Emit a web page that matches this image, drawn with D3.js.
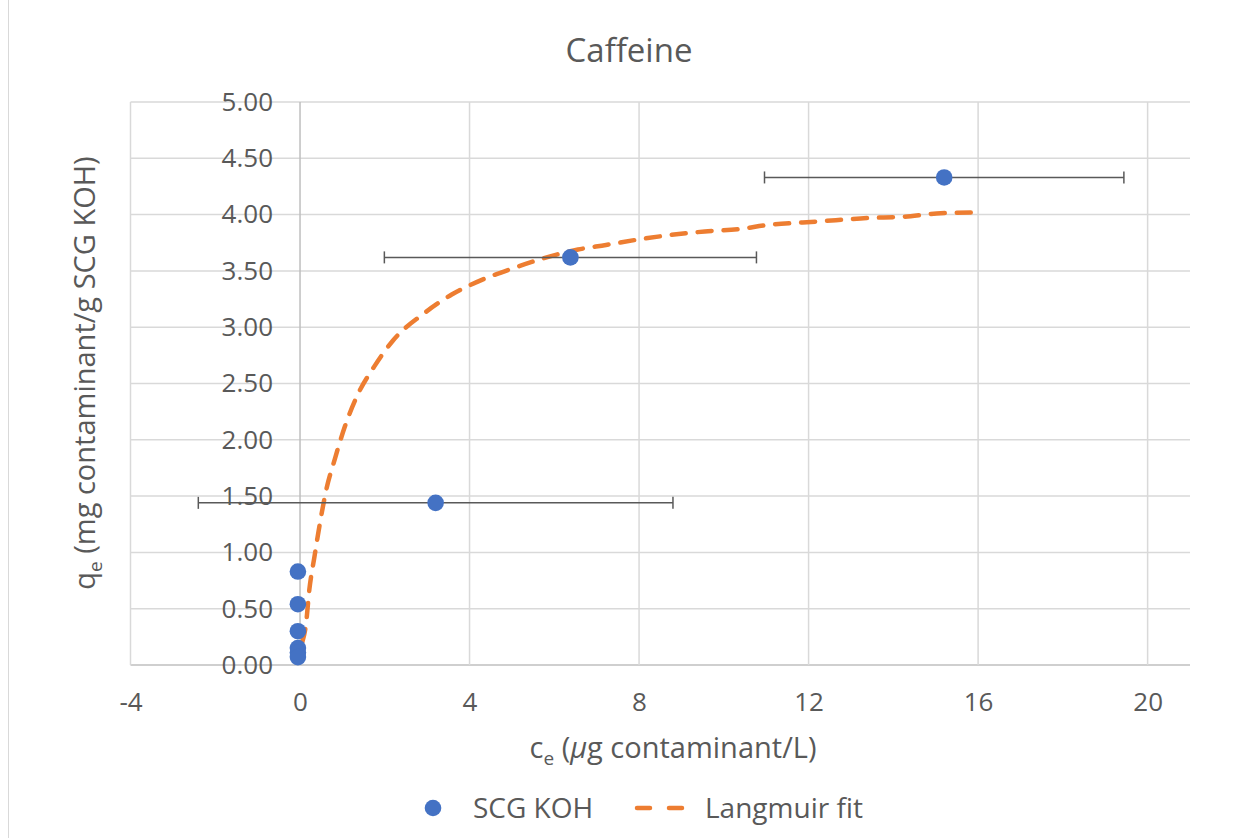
<!DOCTYPE html>
<html>
<head>
<meta charset="utf-8">
<script src="https://cdn.jsdelivr.net/npm/d3@7"></script>
<style>
  body { margin: 0; background: #fff; }
  text { font-family: "Open Sans", sans-serif; fill: #595959; }
</style>
</head>
<body>
<div class="caffeine_chart"></div>
<script>
// measured points (SCG KOH)
var ceVals = [15.2, 6.38, 3.2, -0.05, -0.05, -0.05, -0.05, -0.05, -0.05]
var qeVals = [4.33, 3.62, 1.44, 0.83, 0.54, 0.30, 0.15, 0.11, 0.07]
var ceErr = [4.24, 4.39, 5.6, 0, 0, 0, 0, 0, 0]

// Langmuir fit
var fitCe = [0.05, 0.14, 0.22, 0.34, 0.47, 0.61, 0.83, 1.06, 1.36, 1.75, 2.19, 2.95, 3.58,
  4.29, 5.00, 5.73, 6.56, 7.22, 8.00, 8.77, 9.55, 10.33, 11.08, 11.86, 12.64, 13.42, 14.22, 15.02, 16.0]
var fitQe = [0.20, 0.36, 0.67, 0.96, 1.26, 1.54, 1.84, 2.12, 2.40, 2.65, 2.88, 3.13, 3.29,
  3.42, 3.52, 3.61, 3.69, 3.73, 3.78, 3.82, 3.85, 3.87, 3.91, 3.93, 3.95, 3.97, 3.98, 4.01, 4.02]

var xTicks = [-4, 0, 4, 8, 12, 16, 20]
var yTicks = [0, 0.5, 1, 1.5, 2, 2.5, 3, 3.5, 4, 4.5, 5]

var W = 1244, H = 838
var plot = {left: 130.5, right: 1190, top: 102, bottom: 665}

var svg = d3.select(".caffeine_chart").append("svg")
  .attr("width", W)
  .attr("height", H)

// chart area border
svg.append("rect")
  .attr("x", 8.5).attr("y", -2)
  .attr("width", W).attr("height", H + 4)
  .attr("fill", "none")
  .attr("stroke", "#d9d9d9")

var x = d3.scaleLinear().domain([-4, 21]).range([plot.left, plot.right]),
  y = d3.scaleLinear().domain([0, 5]).range([plot.bottom, plot.top]);

// grid
svg.append("g").selectAll("line")
  .data(yTicks)
  .enter().append("line")
    .attr("x1", plot.left).attr("x2", plot.right)
    .attr("y1", function(d) { return y(d); })
    .attr("y2", function(d) { return y(d); })
    .attr("stroke", function(d) { return d === 0 ? "#bfbfbf" : "#d9d9d9"; })
    .attr("stroke-width", 1.5)

svg.append("g").selectAll("line")
  .data(xTicks)
  .enter().append("line")
    .attr("x1", function(d) { return x(d); })
    .attr("x2", function(d) { return x(d); })
    .attr("y1", plot.top).attr("y2", plot.bottom)
    .attr("stroke", function(d) { return d === 0 ? "#bfbfbf" : "#d9d9d9"; })
    .attr("stroke-width", 1.5)

// axes labels
var xAxis = svg.append("g")
    .attr("transform", "translate(0," + plot.bottom + ")")
    .call(d3.axisBottom(x).tickValues(xTicks).tickFormat(function(d) { return String(d); })
      .tickSize(0).tickPadding(27.5))
xAxis.select(".domain").remove()
xAxis.selectAll("text").style("font-size", "26px").style("font-family", null).attr("fill", null)

var yAxis = svg.append("g")
    .attr("transform", "translate(" + x(0) + ",0)")
    .call(d3.axisLeft(y).tickValues(yTicks).tickFormat(d3.format(".2f")).tickSize(0).tickPadding(27))
yAxis.select(".domain").remove()
yAxis.selectAll("text").style("font-size", "26px").style("font-family", null).attr("fill", null)

// fit line
var line = d3.line()
  .curve(d3.curveMonotoneX)
  .x(function(d) { return x(d[0]); })
  .y(function(d) { return y(d[1]); });

svg.append("path")
  .datum(d3.zip(fitCe, fitQe))
  .attr("d", line)
  .attr("fill", "none")
  .attr("stroke", "#ed7d31")
  .attr("stroke-width", 4.5)
  .attr("stroke-linecap", "round")
  .attr("stroke-dasharray", "14,12")

// error bars
var pts = ceVals.map(function(c, i) { return {c: c, q: qeVals[i], e: ceErr[i]}; })
var bars = svg.append("g").selectAll("g")
  .data(pts.filter(function(d) { return d.e > 0; }))
  .enter().append("g")
    .attr("stroke", "#595959")
    .attr("stroke-width", 1.5)

bars.append("line")
  .attr("x1", function(d) { return x(d.c - d.e); })
  .attr("x2", function(d) { return x(d.c + d.e); })
  .attr("y1", function(d) { return y(d.q); })
  .attr("y2", function(d) { return y(d.q); })
bars.append("line")
  .attr("x1", function(d) { return x(d.c - d.e); })
  .attr("x2", function(d) { return x(d.c - d.e); })
  .attr("y1", function(d) { return y(d.q) - 6; })
  .attr("y2", function(d) { return y(d.q) + 6; })
bars.append("line")
  .attr("x1", function(d) { return x(d.c + d.e); })
  .attr("x2", function(d) { return x(d.c + d.e); })
  .attr("y1", function(d) { return y(d.q) - 6; })
  .attr("y2", function(d) { return y(d.q) + 6; })

// points
svg.append("g").selectAll("circle")
  .data(pts)
  .enter().append("circle")
    .attr("cx", function(d) { return x(d.c); })
    .attr("cy", function(d) { return y(d.q); })
    .attr("r", 8.3)
    .attr("fill", "#4472c4")

// title
svg.append("text")
  .attr("x", 629).attr("y", 62)
  .attr("text-anchor", "middle")
  .style("font-size", "33px")
  .text("Caffeine")

// x axis title
var xt = svg.append("text")
  .attr("x", 673).attr("y", 758)
  .attr("text-anchor", "middle")
  .style("font-size", "29px")
xt.append("tspan").text("c")
xt.append("tspan").attr("dy", 7).style("font-size", "19px").text("e")
xt.append("tspan").attr("dy", -7).text(" (")
xt.append("tspan").style("font-style", "italic").text("\u03bc")
xt.append("tspan").text("g contaminant/L)")

// y axis title
var yt = svg.append("text")
  .attr("transform", "translate(95,373) rotate(-90)")
  .attr("text-anchor", "middle")
  .style("font-size", "29px")
yt.append("tspan").text("q")
yt.append("tspan").attr("dy", 7).style("font-size", "19px").text("e")
yt.append("tspan").attr("dy", -7).text(" (mg contaminant/g SCG KOH)")

// legend
var legend = svg.append("g")
legend.append("circle")
  .attr("cx", 433).attr("cy", 808).attr("r", 8.3)
  .attr("fill", "#4472c4")
legend.append("text")
  .attr("x", 473).attr("y", 818)
  .style("font-size", "28px")
  .text("SCG KOH")
legend.append("line")
  .attr("x1", 637).attr("x2", 684)
  .attr("y1", 808).attr("y2", 808)
  .attr("stroke", "#ed7d31")
  .attr("stroke-width", 4.5)
  .attr("stroke-linecap", "round")
  .attr("stroke-dasharray", "13,19")
legend.append("text")
  .attr("x", 705).attr("y", 818)
  .style("font-size", "28px")
  .text("Langmuir fit")
</script>
</body>
</html>
